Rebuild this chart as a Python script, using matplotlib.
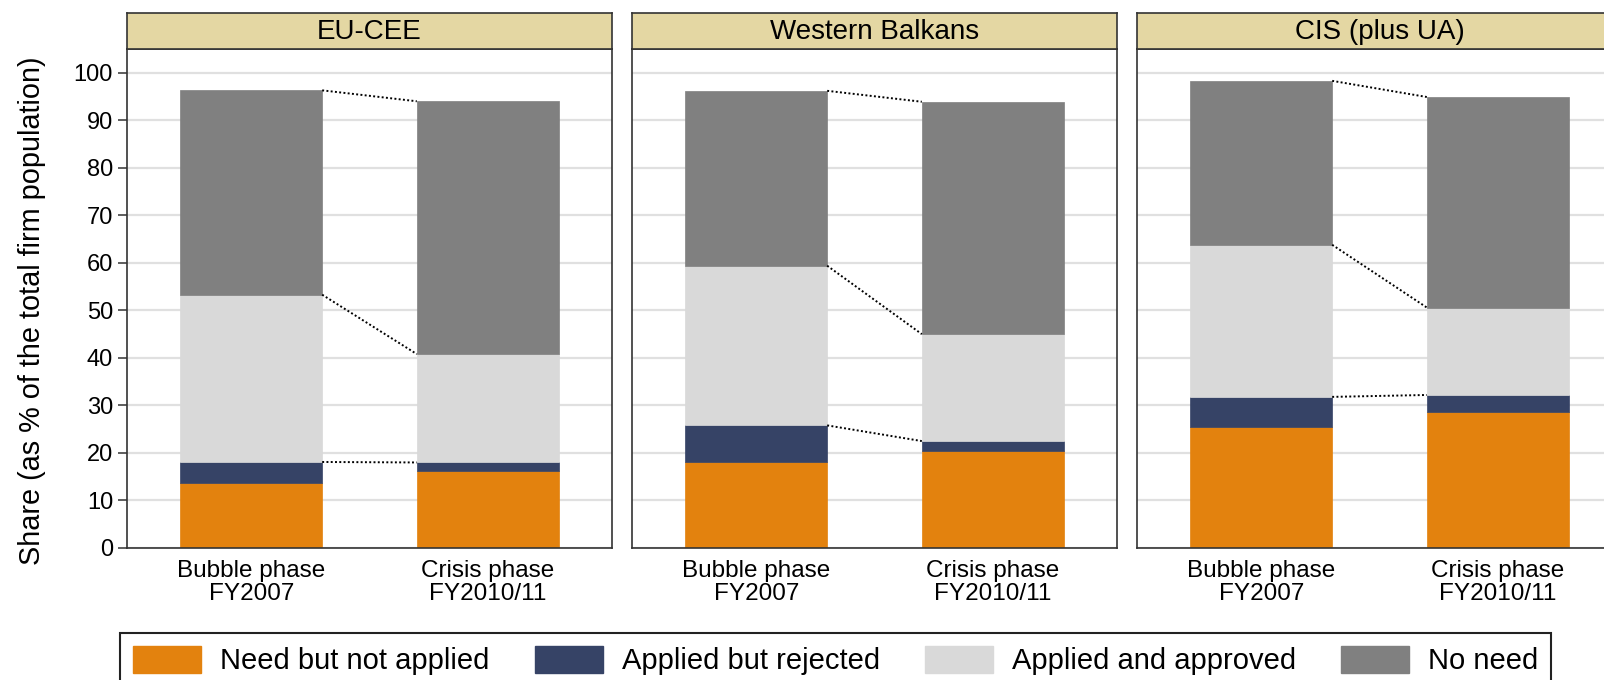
import matplotlib
matplotlib.use("Agg")
import matplotlib.pyplot as plt
from matplotlib.patches import Patch
import numpy as np

plt.rcParams['font.family'] = ['Liberation Sans', 'DejaVu Sans']

# Data: share of firms (% of total firm population), per region, [bubble, crisis]
regions = ['EU-CEE', 'Western Balkans', 'CIS (plus UA)']
phases = ['Bubble phase\nFY2007', 'Crisis phase\nFY2010/11']
series = ['Need but not applied', 'Applied but rejected', 'Applied and approved', 'No need']
colors = ['#E3820E', '#364366', '#D9D9D9', '#808080']

need_not_applied = [[13.7, 16.1], [18.0, 20.4], [25.4, 28.6]]
applied_rejected = [[4.4, 1.9], [7.8, 2.1], [6.4, 3.6]]
applied_approved = [[35.2, 22.8], [33.6, 22.5], [32.0, 18.4]]
no_need = [[43.0, 53.2], [36.8, 48.9], [34.5, 44.3]]

W, H = 1604, 680
fig = plt.figure(figsize=(W / 100, H / 100), dpi=100)

panel_left = [127, 632, 1137]
panel_w = 485
ax_top, ax_bot = 49, 548
strip_h = 36
frame_col = '#333333'
bar_w = 0.6
x = np.arange(len(phases))

for i, region in enumerate(regions):
    ax = fig.add_axes([panel_left[i] / W, 1 - ax_bot / H, panel_w / W, (ax_bot - ax_top) / H])
    stacks = [need_not_applied[i], applied_rejected[i], applied_approved[i], no_need[i]]
    bottom = np.zeros(len(phases))
    tops = []
    for vals, col, name in zip(stacks, colors, series):
        ax.bar(x, vals, bar_w, bottom=bottom, color=col, edgecolor=col, linewidth=0.5, label=name, zorder=2)
        bottom = bottom + np.array(vals)
        tops.append(bottom.copy())

    # dotted connectors between the two bars (skip the bottom segment)
    for t in tops[1:]:
        ax.plot([x[0] + bar_w / 2, x[1] - bar_w / 2], [t[0], t[1]], linestyle=(0, (1, 1.2)),
                color='black', lw=1.4, zorder=3)

    ax.set_xlim(-0.525, 1.525)
    ax.set_ylim(0, 105)
    ax.set_yticks(range(0, 101, 10))
    ax.yaxis.grid(True, color='#E0E0E0', lw=1.6)
    ax.set_axisbelow(True)
    ax.set_xticks(x)
    ax.set_xticklabels(phases, fontsize=17.5, linespacing=1.0)
    ax.tick_params(axis='x', length=0, pad=9)
    if i == 0:
        ax.tick_params(axis='y', labelsize=17, length=6.5, width=1.1, pad=3.5, color=frame_col)
    else:
        ax.tick_params(axis='y', left=False, labelleft=False)
    for sp in ax.spines.values():
        sp.set_color(frame_col)
        sp.set_linewidth(1.2)

    # panel header strip
    hx = fig.add_axes([panel_left[i] / W, 1 - ax_top / H, panel_w / W, strip_h / H])
    hx.set_facecolor('#E4D7A3')
    hx.set_xticks([])
    hx.set_yticks([])
    for sp in hx.spines.values():
        sp.set_color(frame_col)
        sp.set_linewidth(1.2)
    hx.text(0.5, 0.48, region, ha='center', va='center', fontsize=20, transform=hx.transAxes)

fig.text(32 / W, 1 - 311 / H, 'Share (as % of the total firm population)', rotation=90,
         ha='center', va='center', fontsize=20.8)

handles = [Patch(facecolor=c, edgecolor=c) for c in colors]
leg = fig.legend(handles, series, loc='upper left', bbox_to_anchor=(120 / W, 1 - 633 / H),
                 ncol=4, fontsize=21, frameon=True, fancybox=False, framealpha=1,
                 edgecolor='#222222', handlelength=2.33, handleheight=1.03,
                 handletextpad=0.65, columnspacing=1.55, borderpad=0.45, borderaxespad=0)
leg.get_frame().set_linewidth(1.5)

fig.savefig('out.png', dpi=100)
